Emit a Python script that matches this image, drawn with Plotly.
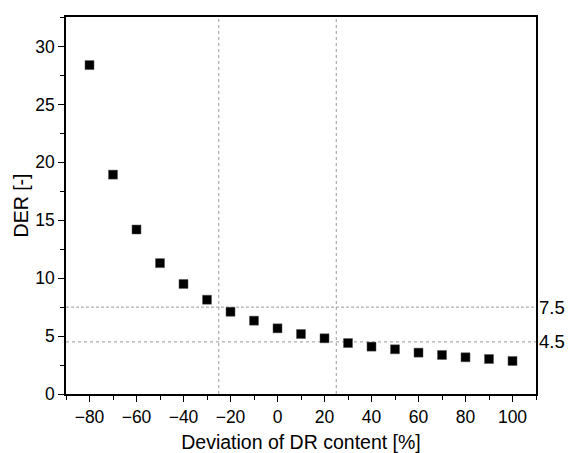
import plotly.graph_objects as go

deviation = [-80, -70, -60, -50, -40, -30, -20, -10, 0, 10, 20, 30, 40, 50, 60, 70, 80, 90, 100]
der = [28.4, 18.94, 14.2, 11.3, 9.5, 8.14, 7.1, 6.33, 5.67, 5.18, 4.81, 4.40, 4.09, 3.86, 3.57, 3.37, 3.17, 3.02, 2.85]
h_lines = [7.5, 4.5]
h_dash = ["3px,2px", "dot"]
v_lines = [-25, 25]

FONT = "Liberation Sans, Arial"

fig = go.Figure()
fig.add_trace(go.Scatter(x=deviation, y=der, mode="markers",
                         marker=dict(symbol="square", size=9, color="black",
                                     line=dict(color="#555", width=0.5)),
                         showlegend=False))

for y, d in zip(h_lines, h_dash):
    fig.add_shape(type="line", xref="paper", x0=0, x1=1, y0=y, y1=y,
                  line=dict(color="#999", width=1, dash=d), layer="below")
    fig.add_annotation(xref="paper", x=1.0, y=y, text=str(y), showarrow=False,
                       xanchor="left", xshift=1, font=dict(family=FONT, size=18.5, color="black"))
for x in v_lines:
    fig.add_shape(type="line", yref="paper", y0=0, y1=1, x0=x, x1=x,
                  line=dict(color="#999", width=1, dash="dot"), layer="below")

axis_common = dict(showline=True, linecolor="black", linewidth=1.5, mirror=True,
                   ticks="outside", ticklen=6, tickwidth=1.3, tickcolor="black",
                   showgrid=False, zeroline=False, automargin=False,
                   tickfont=dict(family=FONT, size=17.5, color="black"))

fig.update_xaxes(range=[-90, 110], tickvals=list(range(-80, 101, 20)),
                 ticktext=["\u221280", "\u221260", "\u221240", "\u221220", "0", "20", "40", "60", "80", "100"],
                 minor=dict(tickvals=list(range(-90, 111, 20)), ticks="outside", ticklen=4, tickcolor="black", tickwidth=1.3),
                 title=dict(text="Deviation of DR content [%]", font=dict(family=FONT, size=19.5, color="black"), standoff=10),
                 **axis_common)
fig.update_yaxes(range=[0, 32.55], tickvals=[0, 5, 10, 15, 20, 25, 30],
                 minor=dict(dtick=2.5, tick0=0, ticks="outside", ticklen=4, tickcolor="black", tickwidth=1.3),
                 title=dict(text="DER [-]", font=dict(family=FONT, size=19.5, color="black"), standoff=1),
                 **axis_common)

fig.update_layout(width=568, height=453, margin=dict(l=66, r=32, t=17, b=59),
                  plot_bgcolor="white", paper_bgcolor="white",
                  font=dict(family=FONT, color="black"))

fig.write_html("out.html")
